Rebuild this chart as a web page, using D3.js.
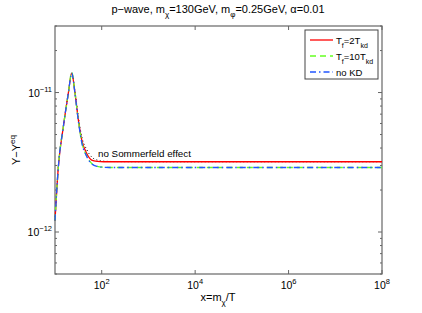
<!DOCTYPE html>
<html>
<head>
<meta charset="utf-8">
<script src="https://cdn.jsdelivr.net/npm/d3@7"></script>
<style>
  body { margin: 0; background: #fff; }
  text { font-family: "Liberation Sans", Arial, sans-serif; fill: #000; }
</style>
</head>
<body>
<div id="chart"></div>
<script>
// data (x = m_chi / T, Y - Y_eq)
var xVals = [10, 11.8, 15.1, 19.3, 22.8, 26.8, 31.6, 37.3, 47.8, 61, 80, 110, 200, 1e3, 1e4, 1e5, 1e6, 1e7, 1e8];
var redVals = [1.21, 2.94, 5.7, 9.9, 13.8, 9.9, 6.37, 4.57, 3.66, 3.28, 3.21, 3.19, 3.19, 3.19, 3.19, 3.19, 3.19, 3.19, 3.19];
var greenVals = [1.21, 2.94, 5.7, 9.9, 14.0, 9.9, 6.3, 4.45, 3.5, 3.1, 2.96, 2.92, 2.9, 2.9, 2.9, 2.9, 2.9, 2.9, 2.9];
var blueVals = [1.21, 2.94, 5.7, 9.9, 13.8, 9.8, 6.25, 4.4, 3.48, 3.08, 2.95, 2.91, 2.9, 2.9, 2.9, 2.9, 2.9, 2.9, 2.9];
var noSomVals = [1.21, 2.94, 5.7, 9.9, 13.8, 10.2, 6.7, 4.85, 3.9, 3.45, 3.28, 3.22, 3.2, 3.19, 3.19, 3.19, 3.19, 3.19, 3.19];
var xTicks = [1e2, 1e4, 1e6, 1e8];
var xTickExp = ['2', '4', '6', '8'];
var yTicks = [1e-12, 1e-11];
var yTickExp = ['\u221212', '\u221211'];

var svgWidth = 422, svgHeight = 313;
var margin = { top: 26, right: 40, bottom: 39, left: 55 };
var chartWidth = svgWidth - margin.left - margin.right;
var chartHeight = svgHeight - margin.top - margin.bottom;

var svg = d3.select('#chart').append('svg')
    .attr('width', svgWidth)
    .attr('height', svgHeight);

var g = svg.append('g')
    .attr('transform', `translate(${margin.left}, ${margin.top})`);

var x = d3.scaleLog().domain([10, 1e8]).range([0, chartWidth]);
var y = d3.scaleLog().domain([5e-13, 3e-11]).range([chartHeight, 0]);

// plot box
g.append('rect')
    .attr('width', chartWidth).attr('height', chartHeight)
    .attr('fill', '#fff').attr('stroke', '#666').attr('stroke-width', 1.2);

// x ticks (inward, bottom and top)
xTicks.forEach(function(t) {
    g.append('line').attr('x1', x(t)).attr('x2', x(t)).attr('y1', chartHeight).attr('y2', chartHeight - 4).attr('stroke', '#666');
    g.append('line').attr('x1', x(t)).attr('x2', x(t)).attr('y1', 0).attr('y2', 4).attr('stroke', '#666');
});
xTicks.forEach(function(t, i) {
    var tx = g.append('text').attr('x', x(t)).attr('y', chartHeight + 15).attr('text-anchor', 'middle').style('font-size', '10.5px');
    tx.append('tspan').text('10');
    tx.append('tspan').attr('dy', -5).style('font-size', '7.5px').text(xTickExp[i]);
});

// y ticks, major and minor, both sides
var minor = [];
[-13, -12, -11].forEach(function(e) {
    for (var k = 1; k <= 9; k++) {
        var v = k * Math.pow(10, e);
        if (v >= 5e-13 && v <= 3e-11) minor.push(v);
    }
});
minor.forEach(function(v) {
    var len = (yTicks.some(function(t) { return Math.abs(t - v) / t < 1e-6; })) ? 4 : 2;
    g.append('line').attr('x1', 0).attr('x2', len).attr('y1', y(v)).attr('y2', y(v)).attr('stroke', '#666');
    g.append('line').attr('x1', chartWidth).attr('x2', chartWidth - len).attr('y1', y(v)).attr('y2', y(v)).attr('stroke', '#666');
});
yTicks.forEach(function(t, i) {
    var tx = g.append('text').attr('x', -3).attr('y', y(t) + 4).attr('text-anchor', 'end').style('font-size', '10.5px');
    tx.append('tspan').text('10');
    tx.append('tspan').attr('dy', -5).style('font-size', '7.5px').text(yTickExp[i]);
});

// curves
var series = [
    { vals: noSomVals, color: '#000', dash: '1,2.5', width: 1 },
    { vals: redVals, color: '#ff0000', dash: null, width: 1.3 },
    { vals: greenVals, color: '#66ff22', dash: '6,4', width: 1.3 },
    { vals: blueVals, color: '#2255ff', dash: '6,3,1.5,3', width: 1.3 }
];
var line = d3.line()
    .x(function(d) { return x(d[0]); })
    .y(function(d) { return y(d[1] * 1e-12); })
    .curve(d3.curveMonotoneX);

series.forEach(function(s) {
    g.append('path')
        .datum(xVals.map(function(v, i) { return [v, s.vals[i]]; }))
        .attr('d', line)
        .attr('fill', 'none')
        .attr('stroke', s.color)
        .attr('stroke-width', s.width)
        .attr('stroke-dasharray', s.dash);
});

g.append('text').attr('x', 43).attr('y', 131).style('font-size', '9.8px').text('no Sommerfeld effect');

// legend
var lg = g.append('g').attr('transform', 'translate(250, 4)');
lg.append('rect').attr('width', 73).attr('height', 49).attr('fill', '#fff').attr('stroke', '#444').attr('stroke-width', 1);
var legendItems = [
    { color: '#ff0000', dash: null, parts: [['T', 0], ['f', 1], ['=2T', 0], ['kd', 1]] },
    { color: '#66ff22', dash: '6,4', parts: [['T', 0], ['f', 1], ['=10T', 0], ['kd', 1]] },
    { color: '#2255ff', dash: '6,3,1.5,3', parts: [['no KD', 0]] }
];
legendItems.forEach(function(it, i) {
    var yy = 10 + i * 16;
    lg.append('line').attr('x1', 5).attr('x2', 28).attr('y1', yy).attr('y2', yy)
        .attr('stroke', it.color).attr('stroke-width', 1.3).attr('stroke-dasharray', it.dash);
    var tx = lg.append('text').attr('x', 31).attr('y', yy + 3.5).style('font-size', '9.5px');
    var prevSub = 0;
    it.parts.forEach(function(p) {
        var dy = (p[1] - prevSub) * 4;
        tx.append('tspan').attr('dy', dy).style('font-size', p[1] ? '7px' : '9.5px').text(p[0]);
        prevSub = p[1];
    });
});

// title
var title = svg.append('text').attr('x', 218).attr('y', 13).attr('text-anchor', 'middle').style('font-size', '11px');
[['p\u2212wave, m', 0], ['\u03c7', 1], ['=130GeV, m', 0], ['\u03c6', 1], ['=0.25GeV, \u03b1=0.01', 0]].reduce(function(prev, p) {
    title.append('tspan').attr('dy', (p[1] - prev) * 4).style('font-size', p[1] ? '8px' : '11px').text(p[0]);
    return p[1];
}, 0);

// x label
var xl = svg.append('text').attr('x', 218).attr('y', 301).attr('text-anchor', 'middle').style('font-size', '11px');
xl.append('tspan').text('x=m');
xl.append('tspan').attr('dy', 4).style('font-size', '8px').text('\u03c7');
xl.append('tspan').attr('dy', -4).text('/T');

// y label
var yl = svg.append('text').attr('transform', 'translate(20, 150) rotate(-90)').attr('text-anchor', 'middle').style('font-size', '11px');
yl.append('tspan').text('Y\u2212Y');
yl.append('tspan').attr('dy', -5).style('font-size', '8px').text('eq');
</script>
</body>
</html>
